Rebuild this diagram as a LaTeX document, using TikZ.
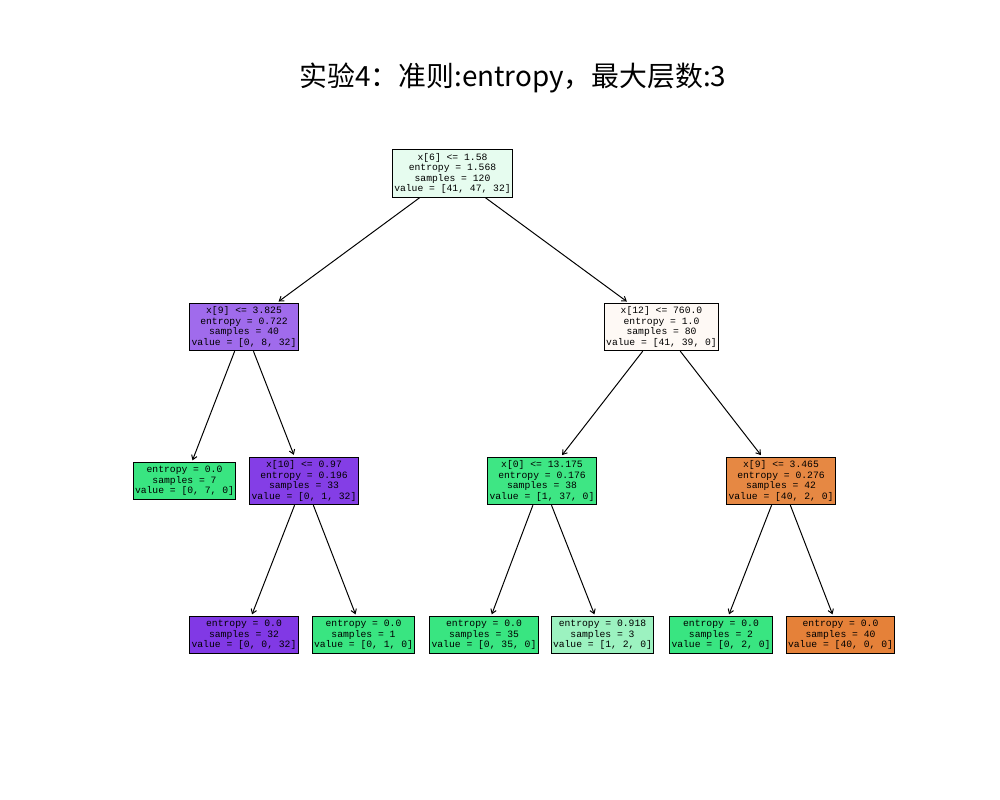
\documentclass[tikz,border=0pt]{standalone}
\usepackage{fontspec}
\newfontfamily\cjk{Noto Sans CJK SC}
\newfontfamily\treefont{Liberation Mono}
\usetikzlibrary{arrows.meta}

\begin{document}
\begin{tikzpicture}[
  x=0.025cm,y=-0.025cm,
  >={Straight Barb[length=3pt,width=4pt]},
  tnode/.style={draw=black,line width=0.7pt,fill=#1,align=center,inner xsep=1.2pt,inner ysep=2.4pt,
    font=\treefont\fontsize{6.9}{7.5}\selectfont},
  edge/.style={->,line width=0.7pt,shorten >=1.5pt}]

  \definecolor{rootc}{HTML}{E6FCEF}
  \definecolor{purpa}{HTML}{A06BEC}
  \definecolor{orgl}{HTML}{FEF9F5}
  \definecolor{grn}{HTML}{39E581}
  \definecolor{purp}{HTML}{8139E5}
  \definecolor{purpb}{HTML}{843EE6}
  \definecolor{grnb}{HTML}{3EE684}
  \definecolor{orgb}{HTML}{E68843}
  \definecolor{grnl}{HTML}{9CF2C0}
  \definecolor{org}{HTML}{E58139}

  \useasboundingbox (0,0) rectangle (1000,800);

  % title
  \node[font=\cjk\fontsize{19.8}{22}\selectfont] (title) at (513,78) {实验4：准则:entropy，最大层数:3};

  % ---- depth 0 / 1 ----
  \node[tnode=rootc] (root) at (452.5,173.5) {x[6] <= 1.58\\entropy = 1.568\\samples = 120\\value = [41, 47, 32]};
  \node[tnode=purpa] (a) at (244,327) {x[9] <= 3.825\\entropy = 0.722\\samples = 40\\value = [0, 8, 32]};
  \node[tnode=orgl] (b) at (661.5,327) {x[12] <= 760.0\\entropy = 1.0\\samples = 80\\value = [41, 39, 0]};

  % ---- depth 2 ----
  \node[tnode=grn] (aa) at (184.5,481) {entropy = 0.0\\samples = 7\\value = [0, 7, 0]};
  \node[tnode=purpb] (ab) at (304,481) {x[10] <= 0.97\\entropy = 0.196\\samples = 33\\value = [0, 1, 32]};
  \node[tnode=grnb] (ba) at (542,481) {x[0] <= 13.175\\entropy = 0.176\\samples = 38\\value = [1, 37, 0]};
  \node[tnode=orgb] (bb) at (781,481) {x[9] <= 3.465\\entropy = 0.276\\samples = 42\\value = [40, 2, 0]};

  % ---- depth 3 (leaves) ----
  \node[tnode=purp] (aba) at (244,635) {entropy = 0.0\\samples = 32\\value = [0, 0, 32]};
  \node[tnode=grn] (abb) at (363.5,635) {entropy = 0.0\\samples = 1\\value = [0, 1, 0]};
  \node[tnode=grn] (baa) at (484,635) {entropy = 0.0\\samples = 35\\value = [0, 35, 0]};
  \node[tnode=grnl] (bab) at (602.5,635) {entropy = 0.918\\samples = 3\\value = [1, 2, 0]};
  \node[tnode=grn] (bba) at (721,635) {entropy = 0.0\\samples = 2\\value = [0, 2, 0]};
  \node[tnode=org] (bbb) at (840.5,635) {entropy = 0.0\\samples = 40\\value = [40, 0, 0]};

  % ---- edges ----
  \foreach \p/\c in {root/a,root/b,a/aa,a/ab,b/ba,b/bb,ab/aba,ab/abb,ba/baa,ba/bab,bb/bba,bb/bbb}
    \draw[edge] (\p) -- (\c);
\end{tikzpicture}
\end{document}
